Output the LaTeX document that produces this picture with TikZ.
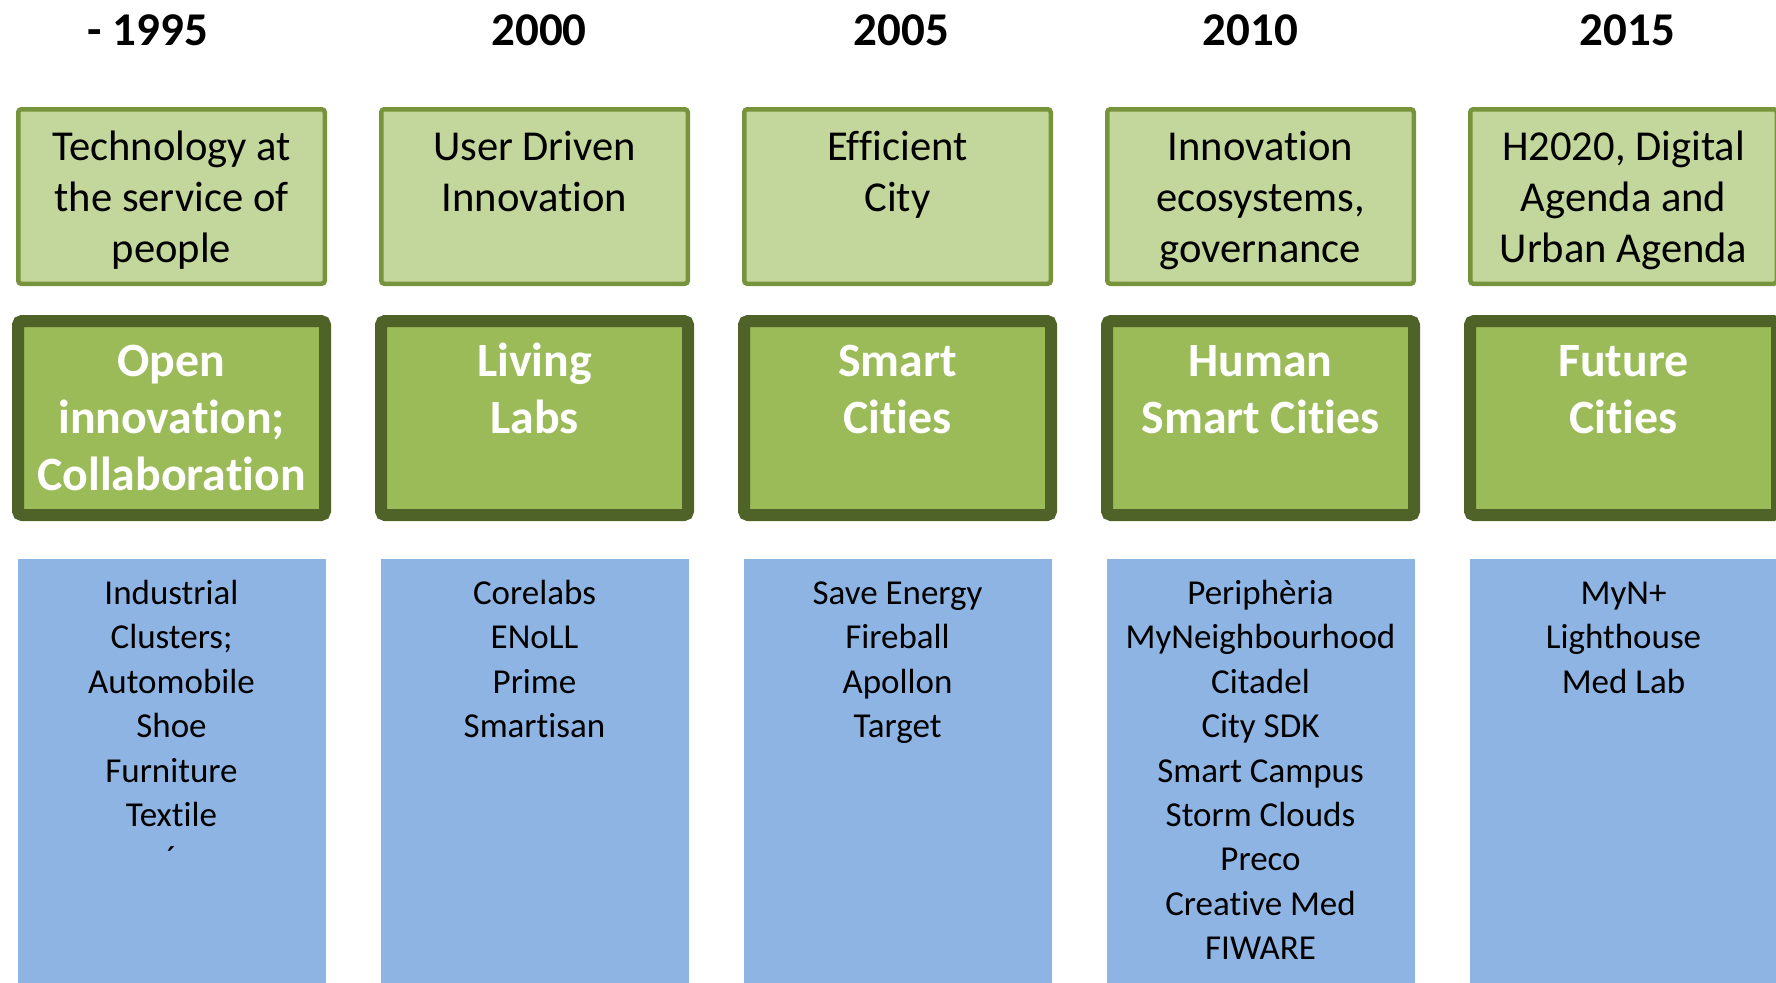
\documentclass[tikz,border=0pt]{standalone}
\usepackage{fontspec}
\setmainfont[Ligatures=NoCommon]{Carlito}
\definecolor{lightfill}{HTML}{C3D69B}
\definecolor{lightline}{HTML}{77933C}
\definecolor{darkfill}{HTML}{9BBB59}
\definecolor{darkline}{HTML}{4F6228}
\definecolor{bluefill}{HTML}{8EB4E3}
\newcommand\firstline{\rule{0pt}{0.9em}}
\tikzset{
  lightbox/.style={draw=lightline, fill=lightfill, line width=2.25pt, rounded corners=1.5pt,
    minimum width=153.25pt, minimum height=87.25pt, inner sep=0pt},
  darkbox/.style={draw=darkline, fill=darkfill, line width=6pt, rounded corners=2pt,
    minimum width=153.5pt, minimum height=97pt, inner sep=0pt},
  bluebox/.style={fill=bluefill, minimum width=154pt, minimum height=220pt, inner sep=0pt, anchor=north},
  yeartext/.style={anchor=base, inner sep=0pt, font=\fontsize{23.5pt}{28pt}\selectfont\bfseries},
  lighttext/.style={anchor=north, align=center, inner sep=0pt, font=\fontsize{21.3pt}{25.5pt}\selectfont},
  darktext/.style={anchor=north, align=center, inner sep=0pt, text=white, font=\fontsize{23.9pt}{28.5pt}\selectfont\bfseries},
  bluetext/.style={anchor=north, align=center, inner sep=0pt, font=\fontsize{17.5pt}{22.2pt}\selectfont},
}
\begin{document}
\begin{tikzpicture}[x=0.5pt,y=-0.5pt]
\useasboundingbox (0,0) rectangle (1776,982);
\clip (0,0) rectangle (1776,982);
% years
\node[yeartext] (y1) at (148,45) {- 1995};
\node[yeartext] (y2) at (539,45) {2000};
\node[yeartext] (y3) at (901.5,45) {2005};
\node[yeartext] (y4) at (1250.5,45) {2010};
\node[yeartext] (y5) at (1627.5,45) {2015};
% light boxes
\node[lightbox] (l1) at (171.5,196.5) {};
\node[lightbox] (l2) at (534.5,196.5) {};
\node[lightbox] (l3) at (897.5,196.5) {};
\node[lightbox] (l4) at (1260.5,196.5) {};
\node[lightbox] (l5) at (1623.5,196.5) {};
\node[lighttext] (lt1) at (171.5,121.7) {\firstline Technology at\\the service of\\people};
\node[lighttext] (lt2) at (534.5,121.7) {\firstline User Driven\\Innovation};
\node[lighttext] (lt3) at (897.5,121.7) {\firstline Efficient\\City};
\node[lighttext] (lt4) at (1260.5,121.7) {\firstline Innovation\\ecosystems,\\governance};
\node[lighttext] (lt5) at (1623.5,121.7) {\firstline H2020, Digital\\Agenda and\\Urban Agenda};
% dark boxes
\node[darkbox] (d1) at (171.5,418) {};
\node[darkbox] (d2) at (534.5,418) {};
\node[darkbox] (d3) at (897.5,418) {};
\node[darkbox] (d4) at (1260.5,418) {};
\node[darkbox] (d5) at (1623.5,418) {};
\node[darktext] (dt1) at (171.5,333) {\firstline Open\\innovation;\\Collaboration};
\node[darktext] (dt2) at (534.5,333) {\firstline Living\\Labs};
\node[darktext] (dt3) at (897.5,333) {\firstline Smart\\Cities};
\node[darktext] (dt4) at (1260.5,333) {\firstline Human\\Smart Cities};
\node[darktext] (dt5) at (1623.5,333) {\firstline Future\\Cities};
% blue boxes
\node[bluebox] (b1) at (172,559) {};
\node[bluebox] (b2) at (535,559) {};
\node[bluebox] (b3) at (898,559) {};
\node[bluebox] (b4) at (1261,559) {};
\node[bluebox] (b5) at (1624,559) {};
\node[bluetext] (bt1) at (171.5,572.5) {\firstline Industrial\\Clusters;\\Automobile\\Shoe\\Furniture\\Textile\\´};
\node[bluetext] (bt2) at (534.5,572.5) {\firstline Corelabs\\ENoLL\\Prime\\Smartisan};
\node[bluetext] (bt3) at (897.5,572.5) {\firstline Save Energy\\Fireball\\Apollon\\Target};
\node[bluetext] (bt4) at (1260.5,572.5) {\firstline Periphèria\\MyNeighbourhood\\Citadel\\City SDK\\Smart Campus\\Storm Clouds\\Preco\\Creative Med\\FIWARE};
\node[bluetext] (bt5) at (1623.5,572.5) {\firstline MyN+\\Lighthouse\\Med Lab};
\end{tikzpicture}
\end{document}
